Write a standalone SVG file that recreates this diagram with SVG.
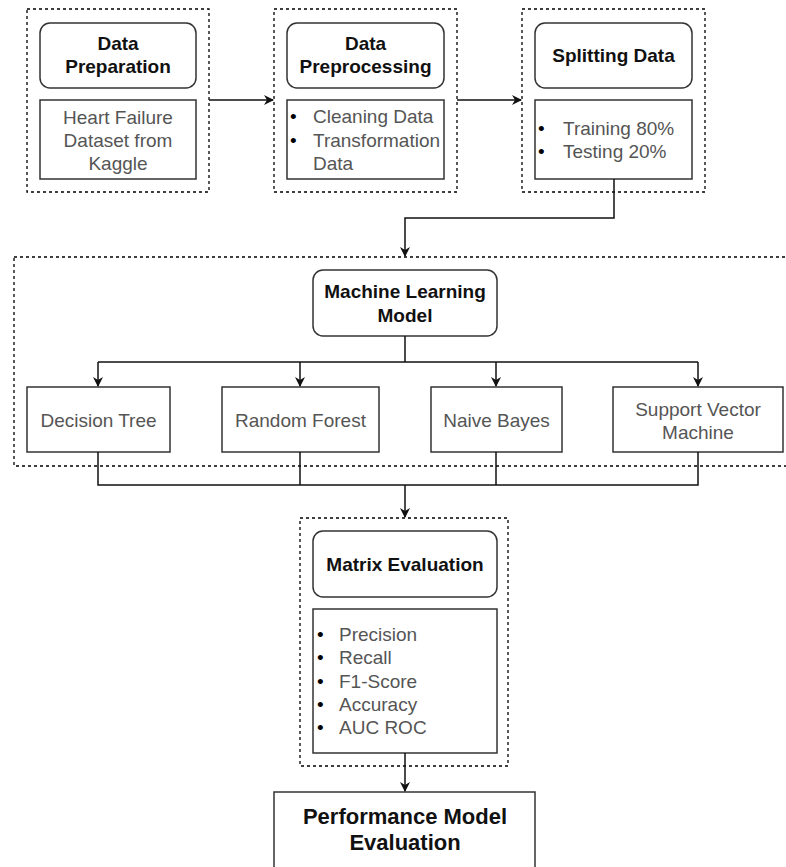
<svg xmlns="http://www.w3.org/2000/svg" width="786" height="867" viewBox="0 0 786 867">
<style>
.bg{fill:#fff}
.dash{fill:none;stroke:#000;stroke-width:1.3;stroke-dasharray:3 3}
.box{fill:#fff;stroke:#333;stroke-width:1.5}
.t{font-family:"Liberation Sans",Arial,sans-serif;font-size:19px;fill:#555}
.b{font-family:"Liberation Sans",Arial,sans-serif;font-size:19px;font-weight:bold;fill:#111}
.c{text-anchor:middle}
.ln{fill:none;stroke:#111;stroke-width:1.5}
</style>
<defs>
<marker id="ah" markerWidth="10" markerHeight="10" refX="9" refY="5" orient="auto" markerUnits="userSpaceOnUse">
<path d="M0,0 L10,5 L0,10 L3,5 Z" fill="#111"/>
</marker>
</defs>
<rect class="bg" x="0" y="0" width="786" height="867"/>

<g id="prep">
<rect class="dash" x="27" y="9" width="182" height="183"/>
<rect class="box" x="40" y="23" width="156" height="65" rx="10"/>
<text class="b c" x="118" y="50">Data</text>
<text class="b c" x="118" y="73">Preparation</text>
<rect class="box" x="40" y="100" width="156" height="79"/>
<text class="t c" x="118" y="124">Heart Failure</text>
<text class="t c" x="118" y="147">Dataset from</text>
<text class="t c" x="118" y="170">Kaggle</text>
</g>

<g id="preprocess">
<rect class="dash" x="274" y="9" width="183" height="183"/>
<rect class="box" x="287" y="23" width="157" height="65" rx="10"/>
<text class="b c" x="365.5" y="50">Data</text>
<text class="b c" x="365.5" y="73">Preprocessing</text>
<rect class="box" x="287" y="100" width="157" height="79"/>
<text class="t" x="290" y="123" style="fill:#000">•</text>
<text class="t" x="313" y="123">Cleaning Data</text>
<text class="t" x="290" y="147" style="fill:#000">•</text>
<text class="t" x="313" y="147">Transformation</text>
<text class="t" x="313" y="170">Data</text>
</g>

<g id="split">
<rect class="dash" x="522" y="9" width="183" height="183"/>
<rect class="box" x="535" y="23" width="157" height="65" rx="10"/>
<text class="b c" x="613.5" y="62">Splitting Data</text>
<rect class="box" x="535" y="100" width="157" height="79"/>
<text class="t" x="538" y="135" style="fill:#000">•</text>
<text class="t" x="563" y="135">Training 80%</text>
<text class="t" x="538" y="158" style="fill:#000">•</text>
<text class="t" x="563" y="158">Testing 20%</text>
</g>

<g id="ml-group">
<rect class="dash" x="14" y="257" width="780" height="209"/>
</g>

<g id="ml">
<rect class="box" x="313" y="270" width="184" height="66" rx="10"/>
<text class="b c" x="405" y="298">Machine Learning</text>
<text class="b c" x="405" y="322">Model</text>
</g>

<g id="dt">
<rect class="box" x="27" y="387" width="143" height="65"/>
<text class="t c" x="98.5" y="427">Decision Tree</text>
</g>
<g id="rf">
<rect class="box" x="222" y="387" width="157" height="65"/>
<text class="t c" x="300.5" y="427">Random Forest</text>
</g>
<g id="nb">
<rect class="box" x="431" y="387" width="131" height="65"/>
<text class="t c" x="496.5" y="427">Naive Bayes</text>
</g>
<g id="svm">
<rect class="box" x="613" y="387" width="170" height="65"/>
<text class="t c" x="698" y="416">Support Vector</text>
<text class="t c" x="698" y="439">Machine</text>
</g>

<g id="eval">
<rect class="dash" x="300" y="518" width="208" height="248"/>
<rect class="box" x="313" y="531" width="184" height="66" rx="10"/>
<text class="b c" x="405" y="571">Matrix Evaluation</text>
<rect class="box" x="313" y="609" width="184" height="144"/>
<text class="t" x="317" y="641" style="fill:#000">•</text>
<text class="t" x="339" y="641">Precision</text>
<text class="t" x="317" y="664" style="fill:#000">•</text>
<text class="t" x="339" y="664">Recall</text>
<text class="t" x="317" y="688" style="fill:#000">•</text>
<text class="t" x="339" y="688">F1-Score</text>
<text class="t" x="317" y="711" style="fill:#000">•</text>
<text class="t" x="339" y="711">Accuracy</text>
<text class="t" x="317" y="734" style="fill:#000">•</text>
<text class="t" x="339" y="734">AUC ROC</text>
</g>

<g id="perf">
<rect class="box" x="274" y="792" width="261" height="90"/>
<text class="b c" x="405" y="824" style="font-size:22px">Performance Model</text>
<text class="b c" x="405" y="850" style="font-size:22px">Evaluation</text>
</g>

<g id="connectors">
<line class="ln" x1="209" y1="100" x2="273" y2="100" marker-end="url(#ah)"/>
<line class="ln" x1="457" y1="100" x2="521" y2="100" marker-end="url(#ah)"/>
<path class="ln" d="M614,179 V218 H405 V256" marker-end="url(#ah)"/>
<path class="ln" d="M405,336 V362"/>
<path class="ln" d="M98,362 H698"/>
<line class="ln" x1="98" y1="362" x2="98" y2="386" marker-end="url(#ah)"/>
<line class="ln" x1="300" y1="362" x2="300" y2="386" marker-end="url(#ah)"/>
<line class="ln" x1="496" y1="362" x2="496" y2="386" marker-end="url(#ah)"/>
<line class="ln" x1="698" y1="362" x2="698" y2="386" marker-end="url(#ah)"/>
<path class="ln" d="M98,452 V485 H698 V452"/>
<path class="ln" d="M300,452 V485"/>
<path class="ln" d="M496,452 V485"/>
<line class="ln" x1="405" y1="485" x2="405" y2="517" marker-end="url(#ah)"/>
<line class="ln" x1="405" y1="753" x2="405" y2="791" marker-end="url(#ah)"/>
</g>
</svg>
